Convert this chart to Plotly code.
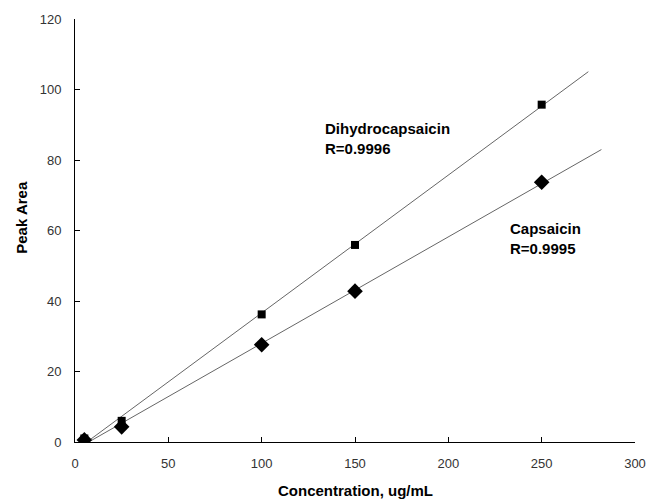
import numpy as np
import plotly.graph_objects as go

# Data
concentration = [5, 25, 100, 150, 250]
dihydrocapsaicin = [1.0, 6.0, 36.2, 55.9, 95.7]
capsaicin = [0.6, 4.3, 27.6, 42.8, 73.7]

series_names = ["Dihydrocapsaicin", "Capsaicin"]
r_values = ["0.9996", "0.9995"]
trend_end = [275, 282]

x_ticks = [0, 50, 100, 150, 200, 250, 300]
y_ticks = [0, 20, 40, 60, 80, 100, 120]

fig = go.Figure()

for ys, xend in [(dihydrocapsaicin, trend_end[0]), (capsaicin, trend_end[1])]:
    k, b = np.polyfit(concentration, ys, 1)
    xs = np.array([min(concentration) - 1, xend])
    fig.add_trace(go.Scatter(x=xs, y=k * xs + b, mode="lines",
                             line=dict(color="#666666", width=1),
                             showlegend=False, hoverinfo="skip"))

fig.add_trace(go.Scatter(x=concentration, y=dihydrocapsaicin, mode="markers",
                         name=series_names[0],
                         marker=dict(symbol="square", size=8, color="black"),
                         showlegend=False))
fig.add_trace(go.Scatter(x=concentration, y=capsaicin, mode="markers",
                         name=series_names[1],
                         marker=dict(symbol="diamond", size=12, color="black"),
                         showlegend=False))

lbl_font = dict(family="Liberation Sans, Arial, sans-serif", size=15, color="black")
fig.add_annotation(x=133, y=92, xref="x", yref="y", xanchor="left", yanchor="top",
                   align="left", showarrow=False, font=lbl_font,
                   text=f"<b>{series_names[0]}<br>R={r_values[0]}</b>")
fig.add_annotation(x=232, y=63.5, xref="x", yref="y", xanchor="left", yanchor="top",
                   align="left", showarrow=False, font=lbl_font,
                   text=f"<b>{series_names[1]}<br>R={r_values[1]}</b>")

fig.add_annotation(x=-0.095, y=0.532, xref="paper", yref="paper", textangle=-90,
                   xanchor="center", yanchor="middle",
                   showarrow=False, font=lbl_font, text="<b>Peak Area</b>")
fig.add_annotation(x=0.5, y=-0.115, xref="paper", yref="paper",
                   xanchor="center", yanchor="middle",
                   showarrow=False, font=lbl_font, text="<b>Concentration, ug/mL</b>")

tick_font = dict(family="Liberation Sans, Arial, sans-serif", size=13, color="#333333")
fig.update_xaxes(range=[0, 300], tickvals=x_ticks, ticks="inside", ticklen=5,
                 tickcolor="black", showline=True, linecolor="black", linewidth=1,
                 showgrid=False, zeroline=False, tickfont=tick_font,
                 ticklabelstandoff=9)
fig.update_yaxes(range=[0, 120], tickvals=y_ticks, ticks="inside", ticklen=5,
                 tickcolor="black", showline=True, linecolor="black", linewidth=1,
                 showgrid=False, zeroline=False, tickfont=tick_font,
                 ticklabelstandoff=10)

fig.update_layout(width=658, height=504, margin=dict(l=75, r=20, t=17, b=62),
                  plot_bgcolor="white", paper_bgcolor="white")

fig.write_html("out.html", config={"displayModeBar": False},
               post_script="document.body.style.margin='0';document.body.style.overflow='hidden';")
